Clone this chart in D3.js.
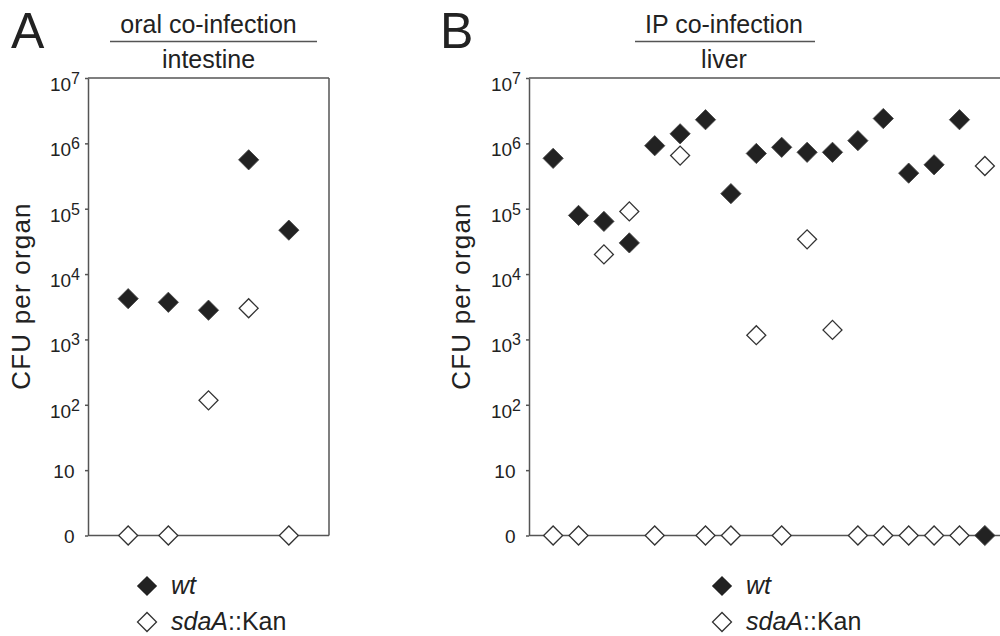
<!DOCTYPE html>
<html lang="en">
<head>
  <meta charset="UTF-8">
  <title>CFU per organ, wt vs sdaA::Kan</title>
  <script src="https://d3js.org/d3.v7.min.js"></script>
  <style>
    body { margin: 0; background: #fff; }
    svg { display: block; font-family: "Liberation Sans", Arial, sans-serif; }
    text { fill: #222; }
    .axis path, .axis line, .frame { stroke: #555; stroke-width: 1.5; fill: none; }
    .axis text { font-size: 19px; }
  </style>
</head>
<body>
<svg width="1000" height="636"></svg>
<script>
// panel A: oral co-infection, intestine
const miceA = ["1", "2", "3", "4", "5"];
const wtA   = [4200, 3700, 2800, 560000, 47000];
const sdaA  = [0, 0, 117, 3000, 0];

// panel B: IP co-infection, liver
const miceB = d3.range(1, 19).map(String);
const wtB   = [590000, 79000, 64000, 30000, 920000, 1400000, 2300000, 170000, 700000,
               870000, 730000, 730000, 1100000, 2400000, 350000, 470000, 2300000, 0];
const sdaB  = [0, 0, 20000, 91000, 0, 650000, 0, 0, 1160, 0, 34000, 1400, 0, 0, 0, 0, 0, 450000];

const yTicks = [1, 10, 1e2, 1e3, 1e4, 1e5, 1e6, 1e7];   // 1 stands for "0"

const svg = d3.select("svg");
const diamond = d3.symbol(d3.symbolSquare, 205);
const openDiamond = d3.symbol(d3.symbolSquare, 180);

function panel(opt) {
  const {letter, letterX, title, organ, titleX, lineX0, lineX1, x, wt, sda, labelX, legendX, boxRight} = opt;
  const y = d3.scaleLog().domain([1, 1e7]).range([535.5, 78]);
  const yv = v => y(Math.max(v, 1));
  const [x0] = x.range();

  svg.append("text").attr("x", letterX).attr("y", 48)
    .style("font-size", "50px").text(letter);

  svg.append("text").attr("x", titleX).attr("y", 33).attr("text-anchor", "middle")
    .style("font-size", "25px").text(title);
  svg.append("line").attr("class", "frame")
    .attr("x1", lineX0).attr("x2", lineX1).attr("y1", 41.5).attr("y2", 41.5);
  svg.append("text").attr("x", titleX).attr("y", 68).attr("text-anchor", "middle")
    .style("font-size", "25px").text(organ);

  const ax = svg.append("g").attr("class", "axis")
    .attr("transform", `translate(${x0},0)`)
    .call(d3.axisLeft(y).tickValues(yTicks).tickSize(3).tickSizeOuter(0).tickPadding(5).tickFormat(""))
    .attr("font-size", null).attr("font-family", null);
  ax.selectAll(".tick text").each(function (d) {
    const t = d3.select(this).attr("dy", null).attr("fill", "#222");
    if (d === 1 || d === 10) {
      t.attr("x", -13.5).attr("dy", "7px").text(d === 1 ? "0" : "10");
    } else {
      t.attr("dy", "12.5px").text("10");
      t.append("tspan").attr("dy", "-7px").style("font-size", "16px").text(Math.round(Math.log10(d)));
    }
  });

  // frame: top, zero line and right side
  svg.append("line").attr("class", "frame")
    .attr("x1", x0).attr("x2", boxRight).attr("y1", y(1e7)).attr("y2", y(1e7));
  svg.append("line").attr("class", "frame")
    .attr("x1", x0).attr("x2", boxRight).attr("y1", y(1)).attr("y2", y(1));
  svg.append("line").attr("class", "frame")
    .attr("x1", boxRight).attr("x2", boxRight).attr("y1", y(1e7)).attr("y2", y(1));

  svg.append("text")
    .attr("transform", `translate(${labelX},296) rotate(-90)`)
    .attr("text-anchor", "middle").style("font-size", "26px").style("letter-spacing", "1.2px")
    .text("CFU per organ");

  const mice = x.domain();
  svg.append("g").selectAll("path.wt").data(mice).join("path")
    .attr("class", "wt")
    .attr("transform", (m, i) => `translate(${x(m)},${yv(wt[i])}) rotate(45)`)
    .attr("d", diamond).attr("fill", "#222").attr("stroke", "#444").attr("stroke-width", 0.8);
  svg.append("g").selectAll("path.sda").data(mice).join("path")
    .attr("class", "sda")
    .attr("transform", (m, i) => `translate(${x(m)},${yv(sda[i])}) rotate(45)`)
    .attr("d", openDiamond).attr("fill", "#fff").attr("stroke", "#333").attr("stroke-width", 1.3);

  // legend
  const lg = svg.append("g").attr("transform", `translate(${legendX},0)`);
  lg.append("path").attr("transform", "translate(0,586) rotate(45)")
    .attr("d", diamond).attr("fill", "#222");
  lg.append("text").attr("x", 24).attr("y", 594).style("font-size", "25px")
    .style("font-style", "italic").text("wt");
  lg.append("path").attr("transform", "translate(0,622) rotate(45)")
    .attr("d", openDiamond).attr("fill", "#fff").attr("stroke", "#333").attr("stroke-width", 1.3);
  const st = lg.append("text").attr("x", 24).attr("y", 630).style("font-size", "25px");
  st.append("tspan").style("font-style", "italic").text("sdaA");
  st.append("tspan").text("::Kan");
}

panel({
  letter: "A", letterX: 11, title: "oral co-infection", organ: "intestine",
  titleX: 208.5, lineX0: 110, lineX1: 317,
  x: d3.scalePoint().domain(miceA).range([88, 329]).padding(1),
  wt: wtA, sda: sdaA, labelX: 30, legendX: 147, boxRight: 329
});

panel({
  letter: "B", letterX: 440, title: "IP co-infection", organ: "liver",
  titleX: 724, lineX0: 635, lineX1: 815,
  x: d3.scalePoint().domain(miceB).range([529, 1009]).padding(0.95),
  wt: wtB, sda: sdaB, labelX: 470, legendX: 722, boxRight: 1009
});
</script>
</body>
</html>
